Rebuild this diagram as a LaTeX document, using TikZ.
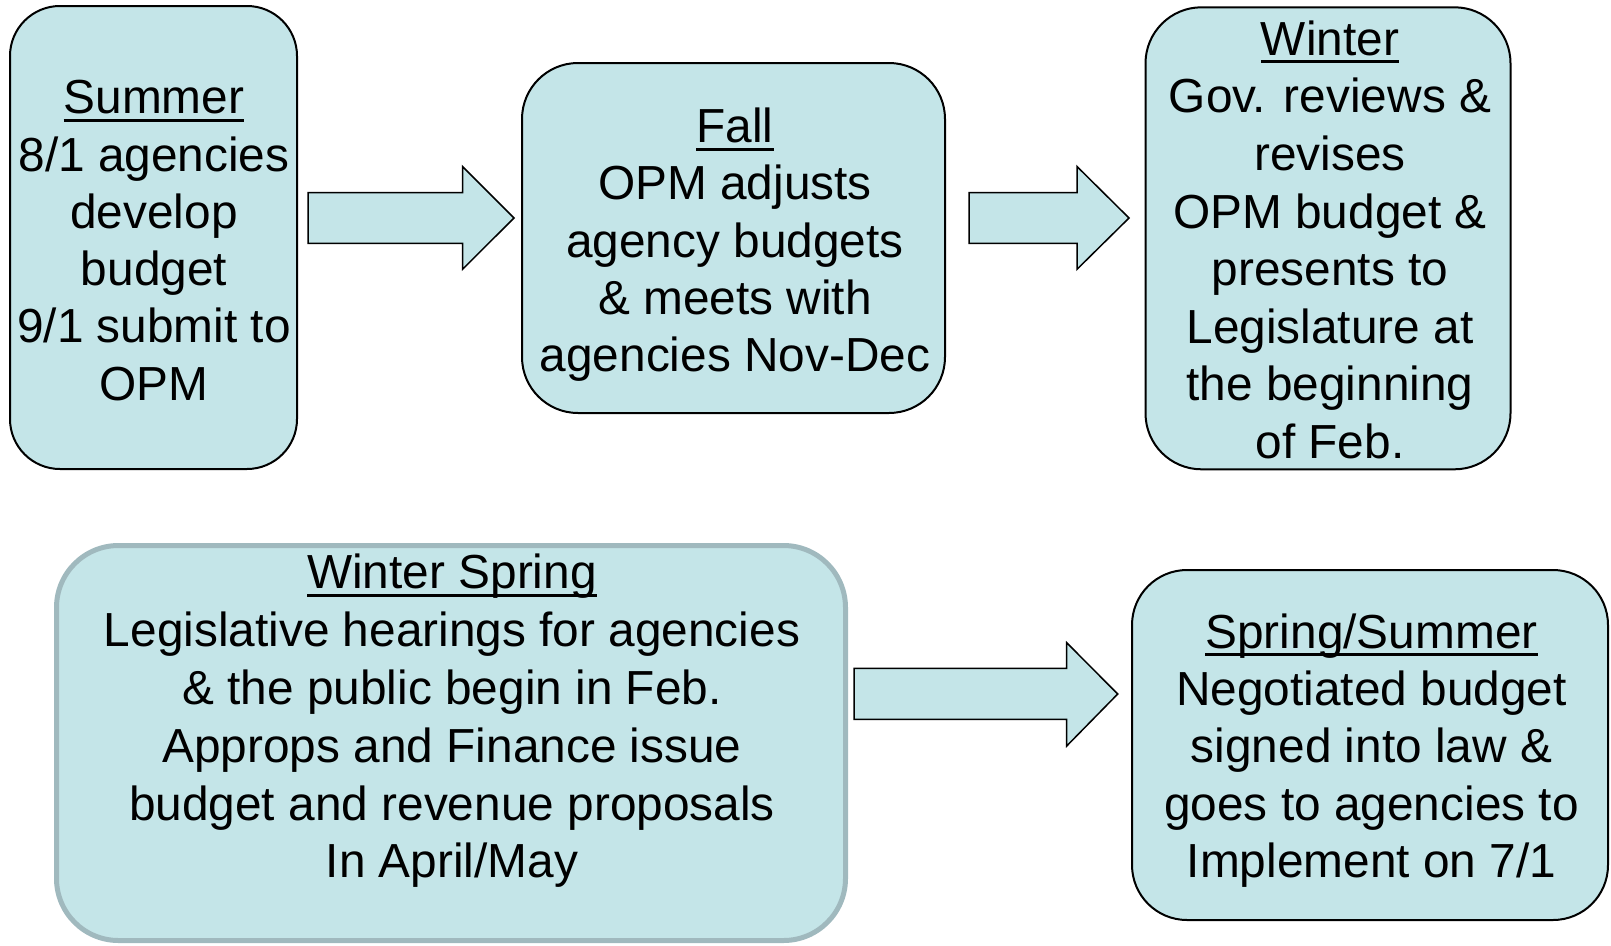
\documentclass[tikz,border=0pt]{standalone}
\usepackage{fontspec}
\setmainfont{Liberation Sans}
\definecolor{boxfill}{RGB}{196,229,232}
\definecolor{softedge}{RGB}{160,185,190}
\newcommand\myul[1]{\setbox0\hbox{#1}\rlap{\rule[-8.2pt]{\wd0}{3pt}}\box0}
\newcommand\tstrut{\rule{0pt}{40pt}}
\begin{document}
\begin{tikzpicture}[x=1pt,y=-1pt,
  stage/.style={draw=black,line width=2pt,fill=boxfill,rounded corners=50pt,inner sep=0pt},
  softstage/.style={draw=softedge,line width=5pt,fill=boxfill,rounded corners=62pt,inner sep=0pt},
  stagetext/.style={anchor=north,inner sep=0pt,align=center,font=\fontsize{47.8}{57.3}\selectfont},
  blockarrow/.style={draw=black,line width=1.5pt,fill=boxfill,line join=miter}]
\useasboundingbox (0,0) rectangle (1611,945);

% boxes
\node[stage,minimum width=287pt,minimum height=463pt] (summer) at (153.5,237.5) {};
\node[stage,minimum width=423pt,minimum height=350pt,rounded corners=56pt] (fall) at (733.5,238) {};
\node[stage,minimum width=365pt,minimum height=462pt,rounded corners=56pt] (winter) at (1328,238.3) {};
\node[softstage,minimum width=789pt,minimum height=395pt] (winterspring) at (451,743) {};
\node[stage,minimum width=476pt,minimum height=350pt,rounded corners=55pt] (springsummer) at (1370,745) {};

% texts
\node[stagetext] (summertext) at (154,73.5) {\tstrut\myul{Summer}\\8/1 agencies\\develop\\budget\\9/1 submit to\\OPM};
\node[stagetext] (falltext) at (735,102.3) {\tstrut\myul{Fall}\\OPM adjusts\\agency budgets\\\& meets with\\agencies Nov-Dec};
\node[stagetext,font=\fontsize{47.8}{57.6}\selectfont] (wintertext) at (1330,15) {\tstrut\myul{Winter}\\Gov. reviews \&\\revises\\OPM budget \&\\presents to\\Legislature at\\the beginning\\of Feb.};
\node[stagetext,font=\fontsize{47.8}{57.9}\selectfont] (winterspringtext) at (452,548.2) {\tstrut\myul{Winter Spring}\\Legislative hearings for agencies\\\& the public begin in Feb.\\Approps and Finance issue\\budget and revenue proposals\\In April/May};
\node[stagetext,font=\fontsize{47.8}{57.4}\selectfont] (springsummertext) at (1371.5,607.8) {\tstrut\myul{Spring/Summer}\\Negotiated budget\\signed into law \&\\goes to agencies to\\Implement on 7/1};

% block arrows
\coordinate (a1) at (308,218);
\coordinate (a2) at (969,218);
\coordinate (a3) at (854,694);
\draw[blockarrow] (a1) ++(0,-25.5) -- ++(154.5,0) -- ++(0,-26) -- (514,218) -- (462.5,269.3) -- ++(0,-26) -- ++(-154.5,0) -- cycle;
\draw[blockarrow] (a2) ++(0,-25.5) -- ++(108,0) -- ++(0,-26) -- (1129,218) -- (1077,269.3) -- ++(0,-26) -- ++(-108,0) -- cycle;
\draw[blockarrow] (a3) ++(0,-25.7) -- ++(212.7,0) -- ++(0,-25.6) -- (1117.7,694) -- (1066.7,746) -- ++(0,-26.6) -- ++(-212.7,0) -- cycle;
\end{tikzpicture}
\end{document}
